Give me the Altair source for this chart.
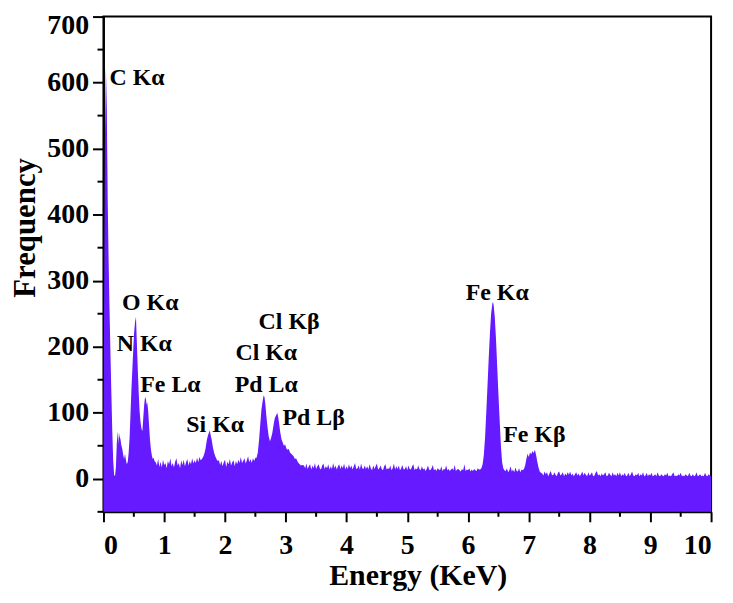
import altair as alt
import pandas as pd

# ---- spectrum data (energy keV, counts) ----
peak_low = [(0.000, 60), (0.010, 260), (0.025, 520), (0.040, 622), (0.055, 560), (0.070, 420),
            (0.085, 330), (0.100, 255), (0.115, 190), (0.130, 130), (0.145, 72), (0.160, 28),
            (0.175, 6), (0.190, 4), (0.205, 18), (0.220, 55), (0.235, 72), (0.245, 52),
            (0.255, 70), (0.265, 64), (0.280, 60), (0.295, 50), (0.310, 45), (0.325, 36),
            (0.340, 30), (0.355, 38), (0.370, 28), (0.385, 22), (0.400, 26), (0.415, 40),
            (0.430, 62), (0.445, 98), (0.460, 135), (0.475, 165), (0.490, 195), (0.505, 222),
            (0.520, 238), (0.535, 245), (0.550, 205), (0.565, 165), (0.580, 130), (0.595, 102),
            (0.610, 86), (0.625, 76), (0.640, 72), (0.655, 92), (0.670, 112), (0.685, 124),
            (0.700, 120), (0.710, 112), (0.720, 116), (0.735, 104), (0.750, 82), (0.765, 60),
            (0.780, 45), (0.795, 36), (0.810, 30), (0.825, 32), (0.840, 27)]

base_1_start, base_1 = 0.86, [25, 20, 30, 18, 26, 17, 29, 21, 24, 16, 27, 22, 31, 19, 24, 17, 26, 31, 20,
                              24, 16, 28, 21, 29, 19, 25, 30, 20, 27, 22, 31, 23, 28, 24, 32, 25, 33, 28]

peak_si = [(1.62, 30), (1.64, 33), (1.66, 38), (1.68, 46), (1.70, 58), (1.72, 66), (1.74, 71),
           (1.75, 73), (1.76, 68), (1.78, 60), (1.80, 48), (1.82, 40), (1.84, 34), (1.86, 30),
           (1.88, 27), (1.90, 28)]

base_2_start, base_2 = 1.92, [21, 27, 19, 25, 29, 18, 26, 22, 30, 20, 25, 28, 19, 27, 22, 29, 24, 33,
                              24, 27, 31, 23, 28, 34, 25, 30, 24, 31, 27, 32]

peak_pd = [(2.52, 32), (2.54, 40), (2.56, 58), (2.58, 82), (2.60, 105), (2.62, 118), (2.635, 126),
           (2.65, 124), (2.665, 112), (2.68, 96), (2.70, 78), (2.72, 64), (2.74, 57), (2.76, 62),
           (2.78, 70), (2.80, 82), (2.82, 92), (2.84, 96), (2.86, 100), (2.875, 94), (2.89, 84),
           (2.91, 70), (2.93, 60), (2.95, 55), (2.97, 50), (2.99, 52), (3.01, 46), (3.03, 44),
           (3.05, 45), (3.07, 40), (3.09, 38), (3.11, 36), (3.13, 34), (3.15, 30), (3.17, 31),
           (3.19, 27), (3.21, 24), (3.23, 22), (3.25, 20), (3.27, 21)]

base_3_start, base_3 = 3.30, [20, 16, 23, 15, 19, 22, 14, 20, 16, 24,
                              15, 19, 22, 16, 14, 20, 23, 15, 19, 16,
                              22, 14, 19, 15, 24, 16, 20, 14, 19, 22,
                              15, 20, 16, 23, 14, 19, 15, 22, 16, 20,
                              14, 19, 24, 15, 16, 20, 14, 23, 16, 15,
                              20, 15, 19, 14, 22, 16, 13, 20, 15, 19,
                              23, 14, 16, 20, 15, 13, 19, 22, 14, 16,
                              15, 20, 13, 16, 23, 14, 19, 15, 20, 13,
                              16, 21, 14, 15, 19, 13, 20, 15, 14, 19,
                              22, 13, 16, 14, 20, 15, 13, 19, 14, 16,
                              12, 15, 20, 14, 13, 16, 21, 13, 15, 12,
                              16, 14, 13, 19, 12, 15, 14, 20, 13, 15,
                              12, 14, 16, 13, 21, 12, 14, 15, 13, 11,
                              15, 13, 22, 12, 14, 13, 16, 11, 14, 12,
                              15, 13, 12, 16, 14]

peak_fe_ka = [(6.20, 14), (6.22, 16), (6.24, 22), (6.26, 36), (6.28, 62), (6.30, 100), (6.32, 140),
              (6.34, 182), (6.36, 220), (6.38, 250), (6.40, 265), (6.41, 268), (6.42, 264),
              (6.44, 245), (6.46, 212), (6.48, 170), (6.50, 128), (6.52, 90), (6.54, 52),
              (6.56, 26), (6.58, 16), (6.60, 13)]

base_4_start, base_4 = 6.62, [12, 16, 10, 13, 19, 11, 14, 10, 17, 12, 11, 16, 10, 14, 13]

peak_fe_kb = [(6.92, 15), (6.94, 20), (6.96, 30), (6.98, 38), (7.00, 33), (7.02, 40), (7.04, 37),
              (7.06, 42), (7.08, 39), (7.10, 44), (7.12, 36), (7.14, 26), (7.16, 17), (7.18, 11),
              (7.20, 9)]

base_5_start, base_5 = 7.22, [8, 5, 11, 7, 10, 4, 8, 12, 6, 5,
                              10, 6, 4, 9, 11, 5, 7, 10, 4, 8,
                              5, 10, 6, 11, 5, 8, 4, 7, 10, 5,
                              8, 4, 7, 11, 5, 9, 6, 4, 10, 5,
                              7, 10, 4, 5, 9, 12, 5, 7, 4, 8,
                              5, 7, 10, 4, 5, 9, 6, 4, 10, 5,
                              7, 4, 9, 5, 10, 4, 7, 5, 9, 4,
                              5, 9, 4, 7, 11, 5, 4, 7, 5, 9,
                              4, 7, 5, 10, 4, 5, 9, 4, 7, 5,
                              9, 4, 5, 7, 4, 10, 5, 4, 7, 5,
                              4, 7, 5, 9, 4, 5, 4, 7, 10, 4,
                              5, 4, 7, 5, 9, 4, 5, 4, 7, 5,
                              4, 9, 5, 4, 7, 4, 5, 10, 4, 5,
                              7, 4, 5, 4, 9, 5, 4, 7, 5, 4]

CHANNEL = 0.02  # keV per channel in the flat background segments


def seg(start, counts):
    return [(round(start + i * CHANNEL, 3), c) for i, c in enumerate(counts)]


rows = (peak_low + seg(base_1_start, base_1) + peak_si + seg(base_2_start, base_2) + peak_pd
        + seg(base_3_start, base_3) + peak_fe_ka + seg(base_4_start, base_4) + peak_fe_kb
        + seg(base_5_start, base_5))
spec = pd.DataFrame(rows, columns=["energy", "counts"])

# ---- peak labels ----
label_text = ["C K\u03b1", "O K\u03b1", "N K\u03b1", "Fe L\u03b1", "Si K\u03b1", "Cl K\u03b2",
              "Cl K\u03b1", "Pd L\u03b1", "Pd L\u03b2", "Fe K\u03b1", "Fe K\u03b2"]
label_x = [0.10, 0.306, 0.218, 0.606, 1.363, 2.553, 2.172, 2.160, 2.946, 5.962, 6.579]
label_y = [597, 256, 193, 131, 71, 227, 180, 132, 81, 271, 55]
labels = pd.DataFrame({"t": label_text, "energy": label_x, "counts": label_y})

x_major = list(range(0, 11))
x_minor = [0.5, 1.5, 2.5, 3.5, 4.5, 5.5, 6.5, 7.5, 8.5, 9.5]
y_major = [0, 100, 200, 300, 400, 500, 600, 700]
y_minor = [-50, 50, 150, 250, 350, 450, 550, 650]

FONT = "Liberation Serif"
W, H = 611, 498

xs = alt.Scale(domain=[0, 10], nice=False, zero=False)
ys = alt.Scale(domain=[-50, 700], nice=False, zero=False)

x_axis = alt.Axis(values=x_major, format="d", title="Energy (KeV)", grid=False,
                  labelFont=FONT, labelFontWeight="bold", labelFontSize=28,
                  labelColor="black", tickSize=10, tickWidth=2, tickColor="black",
                  domainColor="black", domainWidth=2, labelPadding=10,
                  titleFont=FONT, titleFontSize=30, titleFontWeight="bold",
                  titleColor="black", titleX=316, titleY=73,
                  titleBaseline="alphabetic", titleAlign="center")
y_axis = alt.Axis(values=y_major, format="d", title="Frequency", grid=False,
                  labelFont=FONT, labelFontWeight="bold", labelFontSize=28,
                  labelColor="black", tickSize=11, tickWidth=2, tickColor="black",
                  domainColor="black", domainWidth=2, labelPadding=4,
                  labelOffset={"condition": {"test": "datum.value === 700", "value": 9},
                               "value": 0},
                  titleFont=FONT, titleFontSize=31, titleFontWeight="bold",
                  titleColor="black", titleX=-69, titleY=212, titleAngle=270,
                  titleBaseline="alphabetic", titleAlign="center")

area = alt.Chart(spec).mark_area(color="#661aff", interpolate="linear").encode(
    x=alt.X("energy:Q", scale=xs, axis=x_axis),
    y=alt.Y("counts:Q", scale=ys, axis=y_axis),
    y2=alt.datum(-50),
)

minor_x = alt.Chart(pd.DataFrame({"energy": x_minor})).mark_rule(
    color="black", strokeWidth=2).encode(
    x=alt.X("energy:Q", scale=xs, axis=x_axis),
    y=alt.value(H), y2=alt.value(H + 5),
)
minor_y = alt.Chart(pd.DataFrame({"counts": y_minor})).mark_rule(
    color="black", strokeWidth=2).encode(
    y=alt.Y("counts:Q", scale=ys, axis=y_axis),
    x=alt.value(-6), x2=alt.value(0),
)

text = alt.Chart(labels).mark_text(font=FONT, fontWeight="bold", fontSize=24, color="black",
                                   align="left", baseline="alphabetic").encode(
    x=alt.X("energy:Q", scale=xs, axis=x_axis),
    y=alt.Y("counts:Q", scale=ys, axis=y_axis),
    text="t:N",
)

chart = alt.layer(area, minor_x, minor_y, text).properties(
    width=W, height=H,
    autosize=alt.AutoSizeParams(type="none"),
    padding={"left": 96, "top": 7, "right": 14, "bottom": 80},
).configure_view(stroke="black", strokeWidth=2)

chart.save("out.html", embed_options={"renderer": "svg", "actions": False})
